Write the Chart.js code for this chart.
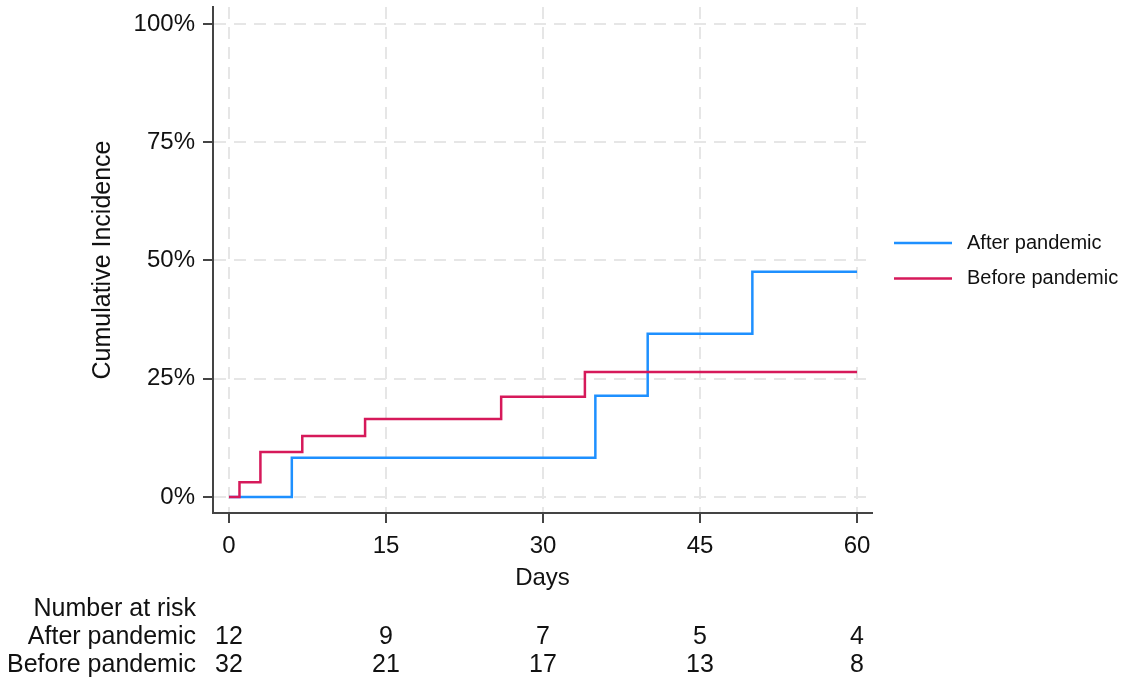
<!DOCTYPE html>
<html>
<head>
<meta charset="utf-8">
<script src="https://cdn.jsdelivr.net/npm/chart.js@4"></script>
<style>
  html, body { margin: 0; padding: 0; background: #fff; }
</style>
</head>
<body>
<canvas id="kmChart" width="1129" height="690"></canvas>
<script>
// cumulative incidence steps (days, %)
const afterDays = [0, 6, 35, 40, 50, 60];
const afterIncidence = [0, 8.3, 21.4, 34.5, 47.6, 47.6];
const beforeDays = [0, 1, 3, 7, 13, 26, 34, 60];
const beforeIncidence = [0, 3.1, 9.5, 12.9, 16.5, 21.2, 26.4, 26.4];

const groupLabels = ['After pandemic', 'Before pandemic'];
const groupColors = ['#1e90ff', '#d6195a'];
const xTicks = [0, 15, 30, 45, 60];
const yTicks = [0, 25, 50, 75, 100];

// number at risk table
const riskAfter = [12, 9, 7, 5, 4];
const riskBefore = [32, 21, 17, 13, 8];

const FONT = "'Liberation Sans', Arial, sans-serif";
const TEXT = '#111';

const toPoints = (xs, ys) => xs.map((x, i) => ({ x: x, y: ys[i] }));

const extras = {
    id: 'extras',
    afterDraw(chart) {
        const ctx = chart.ctx;
        const area = chart.chartArea;
        const xs = chart.scales.x;
        ctx.save();
        ctx.fillStyle = TEXT;

        // y axis title
        ctx.save();
        ctx.font = '25px ' + FONT;
        ctx.textAlign = 'center';
        ctx.textBaseline = 'alphabetic';
        ctx.translate(110, (area.top + area.bottom) / 2);
        ctx.rotate(-Math.PI / 2);
        ctx.fillText('Cumulative Incidence', 0, 0);
        ctx.restore();

        // legend
        ctx.font = '20px ' + FONT;
        ctx.textAlign = 'left';
        ctx.textBaseline = 'middle';
        chart.data.datasets.forEach((ds, i) => {
            const y = 243 + i * 35.5;
            ctx.strokeStyle = ds.borderColor;
            ctx.lineWidth = 2.5;
            ctx.beginPath();
            ctx.moveTo(894, y);
            ctx.lineTo(952, y);
            ctx.stroke();
            ctx.fillText(ds.label, 967, y);
        });

        // risk table
        ctx.font = '25px ' + FONT;
        ctx.textBaseline = 'middle';
        ctx.textAlign = 'right';
        ctx.fillText('Number at risk', 196, 609);
        ctx.fillText(groupLabels[0], 196, 637);
        ctx.fillText(groupLabels[1], 196, 665);
        ctx.textAlign = 'center';
        xTicks.forEach((t, i) => {
            const px = xs.getPixelForValue(t);
            ctx.fillText(String(riskAfter[i]), px, 637);
            ctx.fillText(String(riskBefore[i]), px, 665);
        });
        ctx.restore();
    }
};

const gridOpts = {
    color: '#e6e6e6',
    lineWidth: 2,
    tickColor: '#444',
    tickWidth: 2,
    tickLength: 10,
    tickBorderDash: []
};
const borderOpts = { display: true, color: '#444', width: 2, dash: [12, 8] };

const ctx = document.getElementById('kmChart').getContext('2d');
const kmChart = new Chart(ctx, {
    type: 'line',
    data: {
        datasets: [{
            label: groupLabels[0],
            data: toPoints(afterDays, afterIncidence),
            borderColor: groupColors[0],
            borderWidth: 2.5,
            stepped: true,
            pointRadius: 0,
            fill: false,
            order: 2
        }, {
            label: groupLabels[1],
            data: toPoints(beforeDays, beforeIncidence),
            borderColor: groupColors[1],
            borderWidth: 2.5,
            stepped: true,
            pointRadius: 0,
            fill: false,
            order: 1
        }]
    },
    options: {
        responsive: false,
        animation: false,
        layout: { padding: { top: 7, left: 0, right: 257, bottom: 0 } },
        plugins: {
            legend: { display: false },
            tooltip: { enabled: false }
        },
        scales: {
            x: {
                type: 'linear',
                min: -1.53,
                max: 61.43,
                afterBuildTicks: (scale) => { scale.ticks = xTicks.map(v => ({ value: v })); },
                afterFit: (scale) => {
                    scale.height = 177;
                    scale.paddingLeft = 0;
                    scale.paddingRight = 0;
                },
                ticks: { font: { family: FONT, size: 24 }, color: TEXT, padding: 9, maxRotation: 0 },
                grid: gridOpts,
                border: borderOpts,
                title: {
                    display: true,
                    text: 'Days',
                    color: TEXT,
                    font: { family: FONT, size: 24 },
                    padding: { top: 0, bottom: 97 }
                }
            },
            y: {
                min: -3.4,
                max: 103.6,
                afterBuildTicks: (scale) => { scale.ticks = yTicks.map(v => ({ value: v })); },
                afterFit: (scale) => {
                    scale.width = 213;
                    scale.paddingTop = 0;
                    scale.paddingBottom = 0;
                },
                ticks: {
                    font: { family: FONT, size: 24 },
                    color: TEXT,
                    padding: 8,
                    callback: (v) => v + '%'
                },
                grid: gridOpts,
                border: borderOpts
            }
        }
    },
    plugins: [extras]
});
</script>
</body>
</html>
